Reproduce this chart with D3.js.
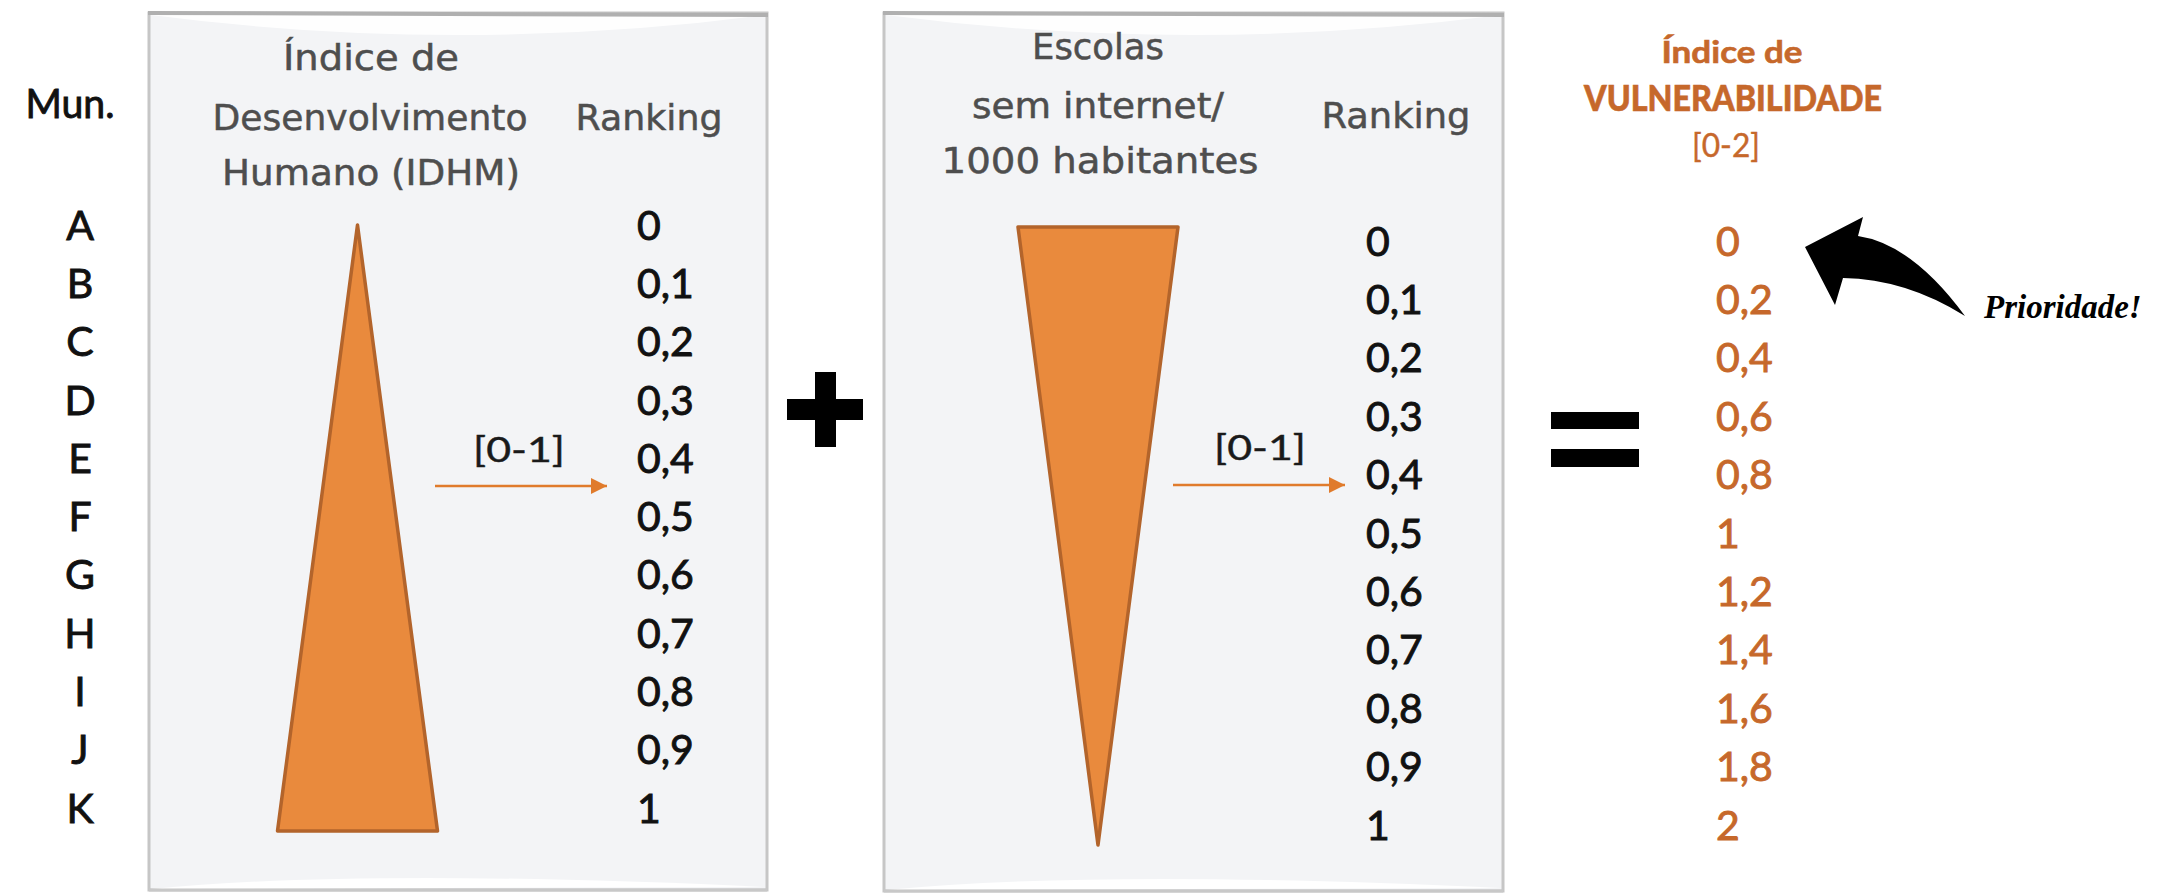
<!DOCTYPE html>
<html>
<head>
<meta charset="utf-8">
<script src="https://cdn.jsdelivr.net/npm/d3@7/dist/d3.min.js"></script>
<style>
  html, body { margin: 0; padding: 0; background: #ffffff; }
  svg { display: block; }
</style>
</head>
<body>
<script>
// ---------------- DATA ----------------
const municipios = ["A", "B", "C", "D", "E", "F", "G", "H", "I", "J", "K"];
const rankingIDHM = [0, 0.1, 0.2, 0.3, 0.4, 0.5, 0.6, 0.7, 0.8, 0.9, 1];
const rankingEscolas = [0, 0.1, 0.2, 0.3, 0.4, 0.5, 0.6, 0.7, 0.8, 0.9, 1];
const indiceVulnerabilidade = [0, 0.2, 0.4, 0.6, 0.8, 1, 1.2, 1.4, 1.6, 1.8, 2];
// relative width of the wedge at the top (ranking 0) and bottom (ranking 1)
const larguraIDHM = [0, 1];
const larguraEscolas = [1, 0];
const headerIDHM = ["Índice de", "Desenvolvimento", "Humano (IDHM)"];
const headerEscolas = ["Escolas", "sem internet/", "1000 habitantes"];
const headerVuln = ["Índice de", "VULNERABILIDADE", "[0-2]"];
const labelMun = "Mun.";
const labelRanking = "Ranking";
const labelIntervalo = "[0-1]";
const labelPrioridade = "Prioridade!";

// ---------------- SETUP ----------------
const W = 2177, H = 893;
const svg = d3.select("body").append("svg").attr("width", W).attr("height", H);

const locale = d3.formatLocale({ decimal: ",", thousands: ".", grouping: [3], currency: ["R$", ""] });
const fmt = locale.format("~g");

const GRAY = "#4e4e4e";
const ORANGE = "#e98a3d";
const ORANGE_STROKE = "#b3642b";
const ORANGE_TEXT = "#c6682b";
const HEAD_FONT = "'DejaVu Sans', sans-serif";
const ROW_FONT = "Lato, 'Open Sans', sans-serif";

function txt(g, s, x, y, o) {
  const t = g.append("text").attr("x", x).attr("y", y).text(s)
    .attr("font-family", o.family || HEAD_FONT)
    .attr("font-size", o.size || 35)
    .attr("fill", o.fill || GRAY)
    .attr("text-anchor", o.anchor || "middle");
  if (o.weight) t.attr("font-weight", o.weight);
  if (o.style) t.attr("font-style", o.style);
  if (o.len) t.attr("textLength", o.len).attr("lengthAdjust", "spacingAndGlyphs");
  if (o.thick) t.attr("stroke", o.fill || GRAY).attr("stroke-width", o.thick).attr("paint-order", "stroke");
  return t;
}

// paper-like panel
function paper(x0, x1, y0, y1) {
  const g = svg.append("g");
  g.append("rect").attr("x", x0).attr("y", y0).attr("width", x1 - x0).attr("height", y1 - y0)
    .attr("fill", "#f3f4f6").attr("stroke", "#c6c6c6").attr("stroke-width", 3);
  const mid = (x0 + x1) / 2;
  g.append("path")
    .attr("d", `M${x0 + 2},${y0 + 2} Q${mid},${y0 + 42} ${x1 - 2},${y0 + 2} Z`)
    .attr("fill", "#ffffff").attr("opacity", 0.9);
  g.append("path")
    .attr("d", `M${x0 + 2},${y1 - 1} Q${x0 + (x1 - x0) * 0.35},${y1 - 22} ${x1 - 2},${y1 - 3} Z`)
    .attr("fill", "#ffffff").attr("opacity", 0.95);
  g.append("line").attr("x1", x0 - 1).attr("x2", x1 + 1).attr("y1", y0).attr("y2", y0 + 2)
    .attr("stroke", "#b0b0b0").attr("stroke-width", 4);
  g.append("line").attr("x1", x0).attr("x2", x1).attr("y1", y1).attr("y2", y1)
    .attr("stroke", "#c8c8c8").attr("stroke-width", 3);
  return g;
}

const p1 = paper(149, 767, 13, 890);
const p2 = paper(884, 1503, 13, 891);

// arrow marker
svg.append("defs").append("marker")
  .attr("id", "arr").attr("viewBox", "0 0 10 10").attr("refX", 10).attr("refY", 5)
  .attr("markerWidth", 16).attr("markerHeight", 16).attr("markerUnits", "userSpaceOnUse")
  .attr("orient", "auto")
  .append("path").attr("d", "M0,0 L10,5 L0,10 Z").attr("fill", "#e07b2c");

// ---------------- scales ----------------
const yMun = d3.scalePoint().domain(municipios).range([226, 809]);
const yRank1 = d3.scaleLinear().domain([0, 1]).range([226, 809]);
const yRank2 = d3.scaleLinear().domain([0, 1]).range([242, 826]);
const yVuln = d3.scaleLinear().domain([0, 2]).range([242, 826]);
const yTri1 = d3.scaleLinear().domain([0, 1]).range([225, 831]);
const yTri2 = d3.scaleLinear().domain([0, 1]).range([227, 845]);
const wTri = d3.scaleLinear().domain([0, 1]).range([0, 160]);

function styleAxis(g, color, anchor) {
  g.select(".domain").remove();
  g.selectAll(".tick line").remove();
  g.selectAll("text")
    .attr("font-family", ROW_FONT)
    .attr("font-size", 41)
    .attr("fill", color)
    .attr("stroke", color)
    .attr("stroke-width", 0.9)
    .attr("text-anchor", anchor)
    .attr("dy", "0.32em");
  g.attr("font-size", null).attr("font-family", null);
}

// ---------------- Mun. column ----------------
txt(svg, labelMun, 70, 118, { family: ROW_FONT, size: 41, fill: "#111", len: 89, thick: 0.9 });
svg.append("g").attr("transform", "translate(80,0)")
  .call(d3.axisRight(yMun).tickSize(0).tickPadding(0))
  .call(g => styleAxis(g, "#111", "middle"));

// ---------------- Panel 1 : IDHM ----------------
txt(p1, headerIDHM[0], 371, 70, { len: 176, thick: 0.5 });
txt(p1, headerIDHM[1], 370, 130, { len: 315, thick: 0.5 });
txt(p1, headerIDHM[2], 371, 185, { len: 298, thick: 0.5 });
txt(p1, labelRanking, 649, 130, { len: 147, thick: 0.5 });

function wedge(g, cx, larg, yS) {
  const pts = [
    [cx - wTri(larg[0]) / 2, yS(0)], [cx + wTri(larg[0]) / 2, yS(0)],
    [cx + wTri(larg[1]) / 2, yS(1)], [cx - wTri(larg[1]) / 2, yS(1)]
  ];
  g.append("path").attr("d", d3.line()(pts) + "Z")
    .attr("fill", ORANGE).attr("stroke", ORANGE_STROKE).attr("stroke-width", 3.5)
    .attr("stroke-linejoin", "round");
}
wedge(p1, 357.5, larguraIDHM, yTri1);

txt(p1, labelIntervalo, 519, 462, { family: ROW_FONT, size: 34, fill: "#1a1a1a", len: 92, thick: 0.4 });
p1.append("line").attr("x1", 435).attr("x2", 607).attr("y1", 486).attr("y2", 486)
  .attr("stroke", "#e07b2c").attr("stroke-width", 2.5).attr("marker-end", "url(#arr)");

p1.append("g").attr("transform", "translate(637,0)")
  .call(d3.axisRight(yRank1).tickValues(rankingIDHM).tickFormat(fmt).tickSize(0).tickPadding(0))
  .call(g => styleAxis(g, "#111", "start"));

// ---------------- plus ----------------
svg.append("rect").attr("x", 815).attr("y", 372).attr("width", 21).attr("height", 75).attr("fill", "#000");
svg.append("rect").attr("x", 787).attr("y", 399).attr("width", 76).attr("height", 21).attr("fill", "#000");

// ---------------- Panel 2 : Escolas ----------------
txt(p2, headerEscolas[0], 1098, 59, { len: 132, thick: 0.5 });
txt(p2, headerEscolas[1], 1098, 118, { len: 252, thick: 0.5 });
txt(p2, headerEscolas[2], 1100, 173, { len: 317, thick: 0.5 });
txt(p2, labelRanking, 1396, 128, { len: 149, thick: 0.5 });

wedge(p2, 1098, larguraEscolas, yTri2);

txt(p2, labelIntervalo, 1260, 460, { family: ROW_FONT, size: 34, fill: "#1a1a1a", len: 92, thick: 0.4 });
p2.append("line").attr("x1", 1173).attr("x2", 1345).attr("y1", 485).attr("y2", 485)
  .attr("stroke", "#e07b2c").attr("stroke-width", 2.5).attr("marker-end", "url(#arr)");

p2.append("g").attr("transform", "translate(1366,0)")
  .call(d3.axisRight(yRank2).tickValues(rankingEscolas).tickFormat(fmt).tickSize(0).tickPadding(0))
  .call(g => styleAxis(g, "#111", "start"));

// ---------------- equals ----------------
svg.append("rect").attr("x", 1551).attr("y", 412).attr("width", 88).attr("height", 17).attr("fill", "#000");
svg.append("rect").attr("x", 1551).attr("y", 449).attr("width", 88).attr("height", 18).attr("fill", "#000");

// ---------------- Vulnerability ----------------
const gv = svg.append("g");
txt(gv, headerVuln[0], 1732, 63, { family: ROW_FONT, size: 31, weight: 700, fill: ORANGE_TEXT, len: 141, thick: 0.6 });
txt(gv, headerVuln[1], 1733, 111, { family: ROW_FONT, size: 36, weight: 900, fill: ORANGE_TEXT, len: 298, thick: 0.6 });
txt(gv, headerVuln[2], 1726, 157, { family: ROW_FONT, size: 32, fill: ORANGE_TEXT, len: 68, thick: 0.4 });

gv.append("g").attr("transform", "translate(1716,0)")
  .call(d3.axisRight(yVuln).tickValues(indiceVulnerabilidade).tickFormat(fmt).tickSize(0).tickPadding(0))
  .call(g => styleAxis(g, ORANGE_TEXT, "start"));

// curved black arrow
gv.append("path")
  .attr("d", "M1805,247 L1863,217 L1858,236 Q1912,244 1965,316 Q1906,279 1843,278 L1835,305 Z")
  .attr("fill", "#000");

txt(gv, labelPrioridade, 1984, 318, {
  family: "'Liberation Serif', serif", size: 33, weight: 700, style: "italic",
  fill: "#000", anchor: "start"
});
</script>
</body>
</html>
